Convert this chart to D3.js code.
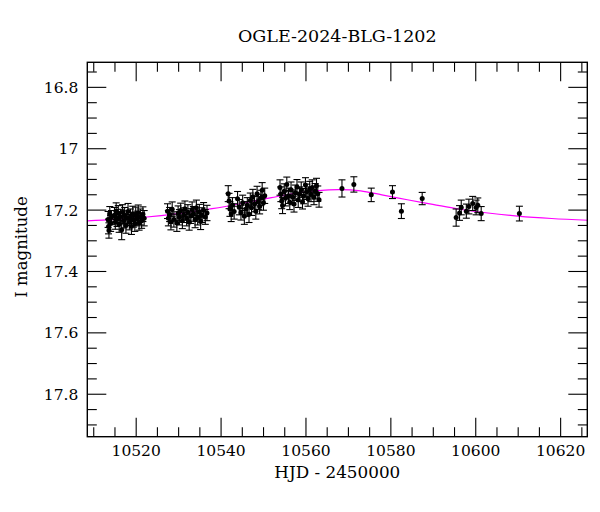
<!DOCTYPE html>
<html>
<head>
<meta charset="utf-8">
<script src="https://cdn.jsdelivr.net/npm/d3@7"></script>
<style>
  body { margin: 0; background: #fff; }
  svg text { font-family: "DejaVu Serif", serif; fill: #000; }
</style>
</head>
<body>
<svg id="chart" width="600" height="512"></svg>
<script>
// photometry
var hjd = [
  10513.5, 10513.6, 10513.7, 10513.9, 10514.1, 10514.3, 10515.0, 10515.2, 10515.4, 10515.6,
  10515.9, 10516.1, 10516.4, 10516.7, 10516.9, 10517.2, 10517.4, 10517.7, 10518.0, 10518.2,
  10518.5, 10518.8, 10519.0, 10519.3, 10519.5, 10519.8, 10520.0, 10520.3, 10520.6, 10520.8,
  10521.1, 10521.4, 10521.7, 10522.0,
  10527.5, 10527.7, 10528.0, 10528.3, 10528.6, 10529.0, 10529.7, 10530.0, 10530.3, 10530.6,
  10531.0, 10531.3, 10531.6, 10532.0, 10532.3, 10532.6, 10533.0, 10533.3, 10533.6, 10534.0,
  10534.3, 10534.6, 10535.0, 10535.3, 10535.6, 10536.0, 10536.4, 10536.8,
  10541.8, 10542.0, 10542.2, 10542.5, 10542.8, 10543.2, 10544.0, 10544.4, 10544.8, 10545.2,
  10545.6, 10546.0, 10546.3, 10546.7, 10547.0, 10547.3, 10547.6, 10548.0, 10548.3, 10548.6,
  10548.9, 10549.2, 10549.5, 10549.8, 10550.1, 10550.4,
  10554.0, 10554.2, 10554.4, 10554.6, 10555.0, 10555.3, 10555.6, 10556.0, 10556.3, 10556.6,
  10557.0, 10557.3, 10557.6, 10558.0, 10558.3, 10558.6, 10559.0, 10559.3, 10559.6, 10560.0,
  10560.3, 10560.6, 10561.0, 10561.3, 10561.6, 10562.0, 10562.3, 10562.6, 10562.9, 10563.2,
  10568.6, 10571.4, 10575.5, 10580.5, 10582.6, 10587.5,
  10595.5, 10596.3, 10596.7, 10597.9, 10598.5, 10599.4, 10600.2, 10600.6, 10601.4,
  10610.4
];
var mag = [
  17.232, 17.255, 17.268, 17.214, 17.245, 17.226, 17.218, 17.240, 17.205, 17.231,
  17.212, 17.248, 17.223, 17.266, 17.209, 17.236, 17.219, 17.252, 17.228, 17.206,
  17.241, 17.222, 17.255, 17.214, 17.233, 17.246, 17.218, 17.229, 17.210, 17.243,
  17.224, 17.236, 17.215, 17.228,
  17.205, 17.228, 17.216, 17.240, 17.199, 17.232, 17.244, 17.212, 17.225, 17.203,
  17.236, 17.218, 17.197, 17.229, 17.209, 17.241, 17.221, 17.200, 17.214, 17.233,
  17.194, 17.226, 17.208, 17.239, 17.218, 17.202, 17.224, 17.211,
  17.148, 17.172, 17.198, 17.214, 17.185, 17.206, 17.165, 17.192, 17.210, 17.178,
  17.222, 17.198, 17.186, 17.215, 17.170, 17.194, 17.158, 17.182, 17.205, 17.148,
  17.175, 17.190, 17.162, 17.137, 17.178, 17.155,
  17.128, 17.150, 17.172, 17.187, 17.140, 17.163, 17.118, 17.155, 17.176, 17.135,
  17.160, 17.182, 17.145, 17.126, 17.168, 17.150, 17.135, 17.174, 17.156, 17.120,
  17.142, 17.165, 17.133, 17.150, 17.128, 17.160, 17.140, 17.122, 17.148, 17.168,
  17.131, 17.118, 17.152, 17.143, 17.205, 17.164,
  17.226, 17.211, 17.193, 17.205, 17.190, 17.180, 17.193, 17.186, 17.213,
  17.213
];
var magErr = [
  0.026, 0.024, 0.025, 0.024, 0.026, 0.023, 0.025, 0.024, 0.027, 0.024,
  0.025, 0.026, 0.024, 0.032, 0.025, 0.024, 0.026, 0.025, 0.024, 0.026,
  0.025, 0.024, 0.026, 0.025, 0.024, 0.025, 0.026, 0.024, 0.025, 0.024,
  0.026, 0.025, 0.024, 0.025,
  0.024, 0.025, 0.023, 0.026, 0.024, 0.025, 0.027, 0.024, 0.025, 0.024,
  0.026, 0.024, 0.025, 0.024, 0.025, 0.026, 0.024, 0.025, 0.024, 0.026,
  0.025, 0.024, 0.025, 0.026, 0.024, 0.025, 0.024, 0.025,
  0.026, 0.025, 0.024, 0.025, 0.024, 0.025, 0.024, 0.025, 0.024, 0.025,
  0.026, 0.024, 0.025, 0.027, 0.024, 0.025, 0.024, 0.025, 0.026, 0.024,
  0.025, 0.024, 0.025, 0.025, 0.024, 0.025,
  0.025, 0.024, 0.025, 0.026, 0.024, 0.025, 0.024, 0.025, 0.024, 0.025,
  0.024, 0.026, 0.025, 0.024, 0.025, 0.024, 0.025, 0.024, 0.025, 0.024,
  0.025, 0.024, 0.025, 0.024, 0.025, 0.024, 0.025, 0.024, 0.025, 0.024,
  0.028, 0.025, 0.022, 0.021, 0.024, 0.020,
  0.028, 0.024, 0.024, 0.023, 0.024, 0.023, 0.024, 0.024, 0.023,
  0.024
];

// model curve, sampled by eye along the magenta line
var modelHjd = [10508, 10515, 10522, 10530, 10538, 10545, 10552, 10558, 10563, 10568,
                10573, 10578, 10584, 10590, 10596, 10603, 10610, 10618, 10627];
var modelMag = [17.237, 17.232, 17.225, 17.213, 17.197, 17.180, 17.161, 17.146, 17.138, 17.135,
                17.139, 17.152, 17.168, 17.183, 17.198, 17.211, 17.221, 17.229, 17.235];

var xTicks = [10520, 10540, 10560, 10580, 10600, 10620];
var yTicks = [16.8, 17.0, 17.2, 17.4, 17.6, 17.8];
var titleText = "OGLE-2024-BLG-1202";
var xLabel = "HJD - 2450000";
var yLabel = "I magnitude";

var plotL = 87.3, plotR = 587.3, plotT = 62.3, plotB = 436.7;
var svg = d3.select("#chart");

var x = d3.scaleLinear().domain([10508.6, 10626.4]).range([plotL, plotR]);
var y = d3.scaleLinear().domain([16.72, 17.94]).range([plotT, plotB]);

var xMinor = d3.range(10510, 10626, 5).filter(function(v){ return v % 20 != 0; });
var yMinor = d3.range(16.75, 17.94, 0.05).map(function(v){ return +v.toFixed(2); })
    .filter(function(v){ return Math.abs(v*5 - Math.round(v*5)) > 1e-6; });

svg.append("defs").append("clipPath").attr("id", "plotclip")
  .append("rect").attr("x", plotL).attr("y", plotT)
  .attr("width", plotR - plotL).attr("height", plotB - plotT);

// axes, ticks pointing inward on all four sides
function styleAxis(g) {
  g.select(".domain").remove();
  g.selectAll(".tick line").attr("stroke", "#000").attr("stroke-width", 1.1);
}
var major = 19, minor = 9.5;

svg.append("g").attr("transform", "translate(0," + plotB + ")")
  .call(d3.axisBottom(x).tickValues(xTicks).tickSize(-major).tickPadding(8).tickFormat(d3.format("d")))
  .call(styleAxis)
  .selectAll("text").attr("font-size", 15.5).attr("font-family", "DejaVu Serif");
svg.append("g").attr("transform", "translate(0," + plotB + ")")
  .call(d3.axisBottom(x).tickValues(xMinor).tickSize(-minor).tickFormat(""))
  .call(styleAxis);
svg.append("g").attr("transform", "translate(0," + plotT + ")")
  .call(d3.axisTop(x).tickValues(xTicks).tickSize(-major).tickFormat(""))
  .call(styleAxis);
svg.append("g").attr("transform", "translate(0," + plotT + ")")
  .call(d3.axisTop(x).tickValues(xMinor).tickSize(-minor).tickFormat(""))
  .call(styleAxis);

svg.append("g").attr("transform", "translate(" + plotL + ",0)")
  .call(d3.axisLeft(y).tickValues(yTicks).tickSize(-major).tickPadding(9).tickFormat(d3.format("")))
  .call(styleAxis)
  .selectAll("text").attr("font-size", 15.5).attr("font-family", "DejaVu Serif").attr("dy", "0.36em");
svg.append("g").attr("transform", "translate(" + plotL + ",0)")
  .call(d3.axisLeft(y).tickValues(yMinor).tickSize(-minor).tickFormat(""))
  .call(styleAxis);
svg.append("g").attr("transform", "translate(" + plotR + ",0)")
  .call(d3.axisRight(y).tickValues(yTicks).tickSize(-major).tickFormat(""))
  .call(styleAxis);
svg.append("g").attr("transform", "translate(" + plotR + ",0)")
  .call(d3.axisRight(y).tickValues(yMinor).tickSize(-minor).tickFormat(""))
  .call(styleAxis);

// model
var modelPts = modelHjd.map(function(d, i){ return [d, modelMag[i]]; });
svg.append("path")
  .attr("clip-path", "url(#plotclip)")
  .attr("d", d3.line().x(function(d){ return x(d[0]); }).y(function(d){ return y(d[1]); })
    .curve(d3.curveCatmullRom)(modelPts))
  .attr("fill", "none").attr("stroke", "#ff00ff").attr("stroke-width", 1.2);

// data with error bars
var pts = hjd.map(function(d, i){ return {t: d, m: mag[i], e: magErr[i]}; });
var bars = svg.append("g").attr("stroke", "#000").attr("stroke-width", 1.1);
pts.forEach(function(p){
  var cx = x(p.t), y0 = y(p.m - p.e), y1 = y(p.m + p.e);
  bars.append("line").attr("x1", cx).attr("x2", cx).attr("y1", y0).attr("y2", y1);
  bars.append("line").attr("x1", cx - 3.5).attr("x2", cx + 3.5).attr("y1", y0).attr("y2", y0);
  bars.append("line").attr("x1", cx - 3.5).attr("x2", cx + 3.5).attr("y1", y1).attr("y2", y1);
});
svg.append("g").selectAll("circle").data(pts).enter().append("circle")
  .attr("cx", function(d){ return x(d.t); })
  .attr("cy", function(d){ return y(d.m); })
  .attr("r", 2.5).attr("fill", "#000");

// frame
svg.append("rect").attr("x", plotL).attr("y", plotT)
  .attr("width", plotR - plotL).attr("height", plotB - plotT)
  .attr("fill", "none").attr("stroke", "#000").attr("stroke-width", 1.4);

// labels
svg.append("text").attr("x", (plotL + plotR) / 2).attr("y", 41.7)
  .attr("text-anchor", "middle").attr("font-size", 17.5).text(titleText);
svg.append("text").attr("x", (plotL + plotR) / 2).attr("y", 478)
  .attr("text-anchor", "middle").attr("font-size", 16.8).text(xLabel);
svg.append("text").attr("transform", "translate(27,247) rotate(-90)")
  .attr("text-anchor", "middle").attr("font-size", 16.5).text(yLabel);
</script>
</body>
</html>
